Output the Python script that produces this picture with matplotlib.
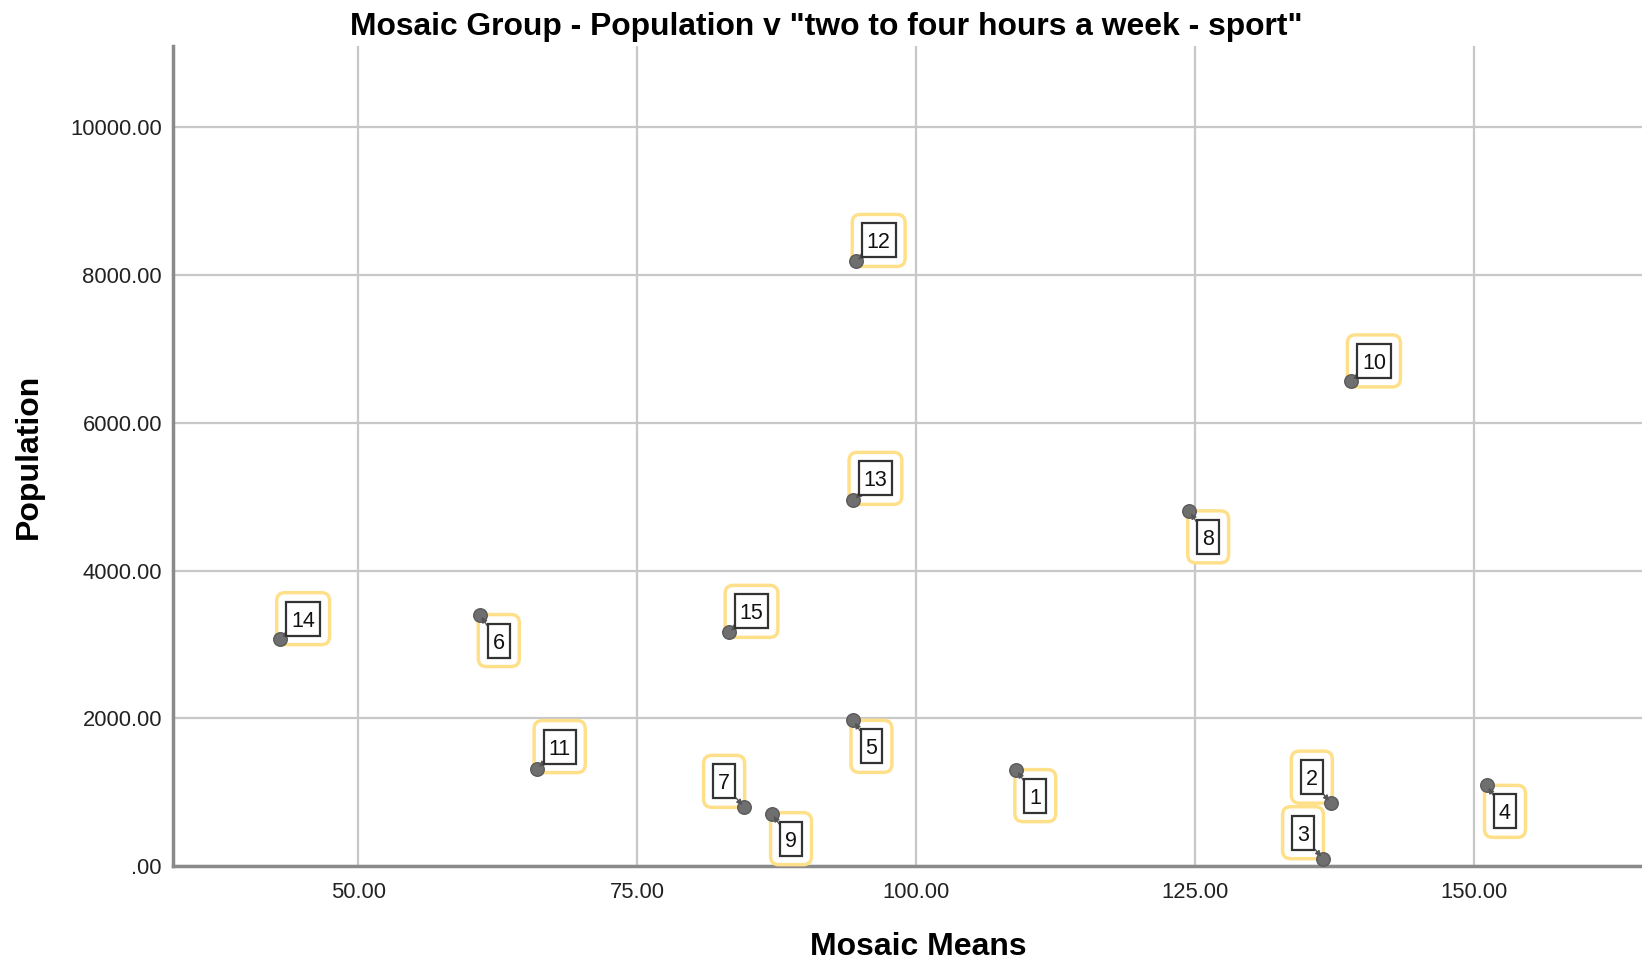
# Mosaic group scatter, population against mean index for "two to four hours a week - sport"

import matplotlib.pyplot as plt
from matplotlib.patches import BoxStyle

plt.rcParams["font.family"] = ["Liberation Sans", "DejaVu Sans"]

groups = ["1", "2", "3", "4", "5", "6", "7", "8", "9", "10", "11", "12", "13", "14", "15"]
mosaic_means = [109.0, 137.2, 136.5, 151.2, 94.4, 60.9, 84.6, 124.5, 87.1, 139.0, 66.0, 94.6, 94.4, 43.0, 83.2]
population = [1305, 851, 99, 1092, 1972, 3404, 794, 4808, 709, 6567, 1319, 8184, 4950, 3078, 3163]

# where the label box sits relative to its point (pixels, y up)
label_offsets = {
    "1": (19, -26), "2": (-19, 26), "3": (-20, 26), "4": (18, -26), "5": (18, -26),
    "6": (19, -26), "7": (-20, 26), "8": (19, -26), "9": (19, -25), "10": (23, 20),
    "11": (23, 22), "12": (23, 21), "13": (22, 22), "14": (23, 20), "15": (23, 21),
}

xticks = [50, 75, 100, 125, 150]
yticks = [0, 2000, 4000, 6000, 8000, 10000]

SHIFT = 2.5  # digits have no descent, so lift the box a bit around them


def fmt(v):
    s = "{:.2f}".format(v)
    return s[1:] if s.startswith("0") else s


# label boxes are taller than wide padding would give, so pad x and y separately (pixels)
def inner_box(x0, y0, w, h, mutation_size):
    hp, vp = 5, 6.5
    return BoxStyle.Square(pad=0)(x0 - hp, y0 - vp + SHIFT, w + 2 * hp, h + 2 * vp, mutation_size)


def outer_box(x0, y0, w, h, mutation_size):
    hp, vp = 14.5, 15.5
    return BoxStyle.Round(pad=0, rounding_size=0.38)(x0 - hp, y0 - vp + SHIFT, w + 2 * hp, h + 2 * vp,
                                                     mutation_size)


fig = plt.figure(figsize=(16.42, 9.63), dpi=100)
ax = fig.add_axes([0.1054, 0.1007, 0.8946, 0.8515])

ax.scatter(mosaic_means, population, s=95, color="#6f6f6f", edgecolor="#5a5a5a", linewidth=1, zorder=4.5)

for g, x, y in zip(groups, mosaic_means, population):
    dx, dy = label_offsets[g]
    # yellow highlight frame
    ax.annotate(g, xy=(x, y), xytext=(dx, dy - SHIFT), textcoords="offset pixels",
                ha="center", va="center", fontsize=15.5, color="none", zorder=4,
                bbox=dict(boxstyle=outer_box, fc="white", ec="#ffe08a", lw=2.5))
    # boxed label with small pointer
    ax.annotate(g, xy=(x, y), xytext=(dx, dy - SHIFT), textcoords="offset pixels",
                ha="center", va="center", fontsize=15.5, color="#111111", zorder=5,
                bbox=dict(boxstyle=inner_box, fc="white", ec="#333333", lw=1.6),
                arrowprops=dict(arrowstyle="-|>", color="#555555", lw=1, mutation_scale=8,
                                shrinkA=0, shrinkB=2))

ax.set_xlim(33.4, 165.1)
ax.set_ylim(0, 11100)
ax.set_xticks(xticks)
ax.set_yticks(yticks)
ax.set_xticklabels([fmt(v) for v in xticks])
ax.set_yticklabels([fmt(v) for v in yticks])
ax.tick_params(length=0, labelsize=15.8, colors="#222222", pad=8)
ax.tick_params(axis="x", pad=11.5)

ax.grid(True, color="#c8c8c8", linewidth=1.6)
ax.set_axisbelow(True)
for side in ["top", "right"]:
    ax.spines[side].set_visible(False)
for side in ["left", "bottom"]:
    ax.spines[side].set_color("#8a8a8a")
    ax.spines[side].set_linewidth(2.5)

ax.set_xlabel("Mosaic Means", fontsize=23, fontweight="bold")
ax.set_ylabel("Population", fontsize=23, fontweight="bold")
ax.xaxis.set_label_coords(0.507, -0.081)
ax.yaxis.set_label_coords(-0.088, 0.5)

fig.suptitle('Mosaic Group - Population v "two to four hours a week - sport"',
             fontsize=22.9, fontweight="bold", x=0.503, y=0.972, va="center")

plt.savefig("out.png", dpi=100)
